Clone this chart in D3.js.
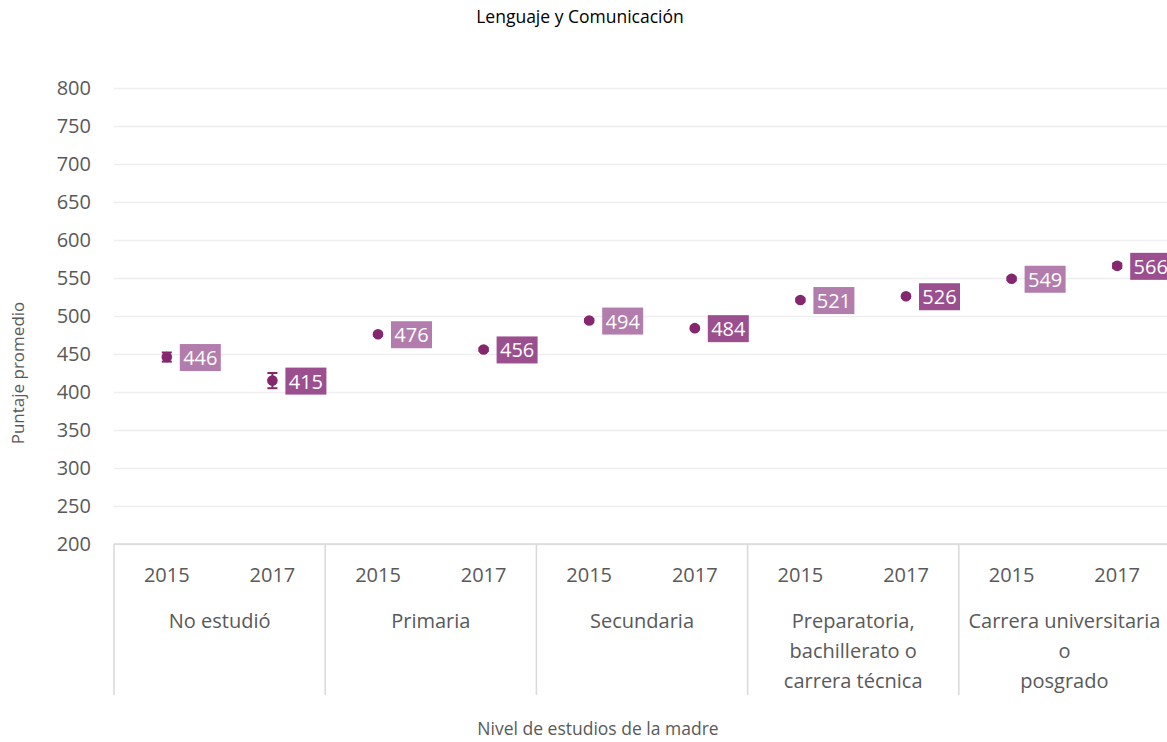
<!DOCTYPE html>
<html>
<head>
<meta charset="utf-8">
<script src="https://cdn.jsdelivr.net/npm/d3@7"></script>
<style>
  body { margin: 0; background: #fff; }
  text { font-family: "Open Sans", sans-serif; }
</style>
</head>
<body>
<script>
// data
var groups = ["No estudió", "Primaria", "Secundaria",
  "Preparatoria,\nbachillerato o\ncarrera técnica", "Carrera universitaria\no\nposgrado"];
var years = ["2015", "2017"];
var scores2015 = [446, 476, 494, 521, 549];
var scores2017 = [415, 456, 484, 526, 566];
var err2015 = [6, 2, 2, 2, 2];
var err2017 = [10, 2, 2, 2, 3];
var yTicks = [200, 250, 300, 350, 400, 450, 500, 550, 600, 650, 700, 750, 800];

var width = 1167, height = 742;
var plotLeft = 114, plotRight = 1170, plotTop = 88, plotBottom = 544;

var points = [];
groups.forEach(function(g, i) {
  points.push({ key: i + "-2015", group: i, year: years[0], v: scores2015[i], e: err2015[i] });
  points.push({ key: i + "-2017", group: i, year: years[1], v: scores2017[i], e: err2017[i] });
});

var svg = d3.select("body").append("svg")
  .attr("width", width)
  .attr("height", height);

var x = d3.scaleBand()
  .domain(points.map(function(d) { return d.key; }))
  .range([plotLeft, plotRight]);

var xGroup = d3.scaleBand()
  .domain(d3.range(groups.length))
  .range([plotLeft, plotRight]);

var y = d3.scaleLinear()
  .domain([200, 800])
  .range([plotBottom, plotTop]);

function cx(d) { return x(d.key) + x.bandwidth() / 2; }

// gridlines
svg.append("g")
  .attr("transform", "translate(" + plotLeft + ",0)")
  .call(d3.axisLeft(y).tickValues(yTicks).tickSize(-(plotRight - plotLeft)).tickFormat(""))
  .call(function(g) {
    g.select(".domain").remove();
    g.selectAll("line").attr("stroke", "#eeeeee").attr("stroke-width", 1.3);
  });

// y tick labels
svg.append("g")
  .attr("transform", "translate(" + (plotLeft - 23) + ",0)")
  .call(d3.axisLeft(y).tickValues(yTicks).tickSize(0))
  .call(function(g) {
    g.select(".domain").remove();
    g.selectAll("text")
      .attr("font-size", 20)
      .attr("fill", "#595959")
      .attr("font-family", "Open Sans, sans-serif")
      .attr("x", 0);
  });

// x axis base line and group dividers
svg.append("line")
  .attr("x1", plotLeft).attr("x2", plotRight)
  .attr("y1", plotBottom).attr("y2", plotBottom)
  .attr("stroke", "#d9d9d9").attr("stroke-width", 1.5);

svg.selectAll(".divider")
  .data(d3.range(groups.length))
  .enter().append("line")
  .attr("class", "divider")
  .attr("x1", function(d) { return xGroup(d); })
  .attr("x2", function(d) { return xGroup(d); })
  .attr("y1", plotBottom)
  .attr("y2", 695)
  .attr("stroke", "#d9d9d9").attr("stroke-width", 1.5);

// year labels
svg.selectAll(".yearLabel")
  .data(points)
  .enter().append("text")
  .attr("class", "yearLabel")
  .attr("x", cx)
  .attr("y", 582)
  .attr("text-anchor", "middle")
  .attr("font-size", 20)
  .attr("fill", "#595959")
  .text(function(d) { return d.year; });

// group labels
var gl = svg.selectAll(".groupLabel")
  .data(groups)
  .enter().append("text")
  .attr("class", "groupLabel")
  .attr("text-anchor", "middle")
  .attr("font-size", 20)
  .attr("fill", "#595959");

gl.selectAll("tspan")
  .data(function(d, i) { return d.split("\n").map(function(s) { return { s: s, i: i }; }); })
  .enter().append("tspan")
  .attr("x", function(d) { return xGroup(d.i) + xGroup.bandwidth() / 2; })
  .attr("y", function(d, j) { return 628 + j * 30; })
  .text(function(d) { return d.s; });

// error bars
var markColor = "#84276f";
var eb = svg.selectAll(".err")
  .data(points)
  .enter().append("g")
  .attr("class", "err")
  .attr("stroke", markColor)
  .attr("stroke-width", 2);

eb.append("line")
  .attr("x1", cx)
  .attr("x2", cx)
  .attr("y1", function(d) { return y(d.v + d.e); })
  .attr("y2", function(d) { return y(d.v - d.e); });

[1, -1].forEach(function(s) {
  eb.append("line")
    .attr("x1", function(d) { return cx(d) - 5; })
    .attr("x2", function(d) { return cx(d) + 5; })
    .attr("y1", function(d) { return y(d.v + s * d.e); })
    .attr("y2", function(d) { return y(d.v + s * d.e); });
});

// markers
svg.selectAll(".dot")
  .data(points)
  .enter().append("circle")
  .attr("class", "dot")
  .attr("cx", cx)
  .attr("cy", function(d) { return y(d.v); })
  .attr("r", 5.3)
  .attr("fill", markColor);

// value labels
var boxColor = { "2015": "#b27cac", "2017": "#9b4f8f" };
var lab = svg.selectAll(".valLabel")
  .data(points)
  .enter().append("g")
  .attr("class", "valLabel")
  .attr("transform", function(d) {
    return "translate(" + (cx(d) + 13) + "," + y(d.v) + ")";
  });

lab.append("rect")
  .attr("x", 0).attr("y", -13)
  .attr("width", 41).attr("height", 27)
  .attr("fill", function(d) { return boxColor[d.year]; });

lab.append("text")
  .attr("x", 20.5).attr("y", 8)
  .attr("text-anchor", "middle")
  .attr("font-size", 20)
  .attr("fill", "#fff")
  .text(function(d) { return d.v; });

// titles
svg.append("text")
  .attr("x", 580).attr("y", 23)
  .attr("text-anchor", "middle")
  .attr("font-size", 17.5)
  .attr("fill", "#000")
  .text("Lenguaje y Comunicación");

svg.append("text")
  .attr("transform", "translate(24,373) rotate(-90)")
  .attr("text-anchor", "middle")
  .attr("font-size", 17)
  .attr("fill", "#595959")
  .text("Puntaje promedio");

svg.append("text")
  .attr("x", 598).attr("y", 735)
  .attr("text-anchor", "middle")
  .attr("font-size", 17.5)
  .attr("fill", "#595959")
  .text("Nivel de estudios de la madre");
</script>
</body>
</html>
